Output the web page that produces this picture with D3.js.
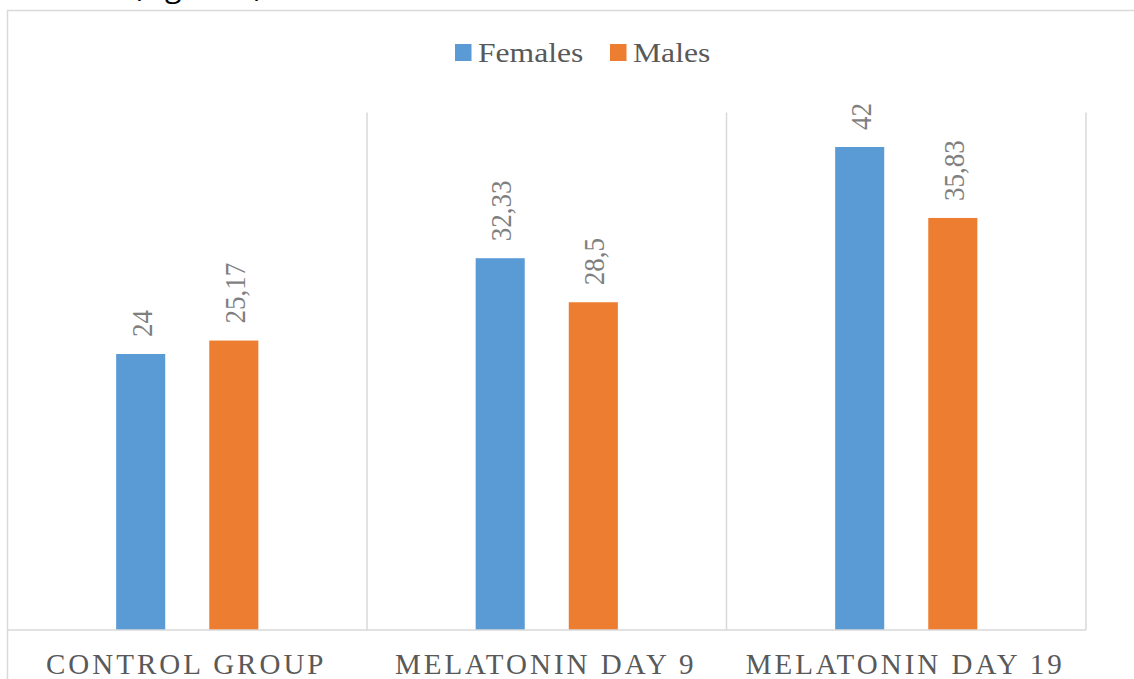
<!DOCTYPE html>
<html>
<head>
<meta charset="utf-8">
<script src="https://cdn.jsdelivr.net/npm/d3@7"></script>
<style>
  html, body { margin: 0; padding: 0; background: #fff; }
  svg { display: block; }
</style>
</head>
<body>
<svg id="chart" width="1134" height="679"></svg>
<script>
// Data
const categories = ["CONTROL GROUP", "MELATONIN DAY 9", "MELATONIN DAY 19"];
const seriesNames = ["Females", "Males"];
const females = [24, 32.33, 42];
const males = [25.17, 28.5, 35.83];
const valueLabels = { Females: ["24", "32,33", "42"], Males: ["25,17", "28,5", "35,83"] };
const colors = { Females: "#5B9BD5", Males: "#ED7D31" };

const W = 1134, H = 679;
const svg = d3.select("#chart");
const sx = 1.13; // horizontal stretch of the exported label text

const plot = { left: 7.5, right: 1086, top: 112.5, bottom: 630 };

// Scales
const x0 = d3.scaleBand().domain(categories).range([plot.left, plot.right]).padding(0);
const x1 = d3.scaleBand().domain(seriesNames).range([0, x0.bandwidth()])
  .paddingInner(0.473).paddingOuter(1.167);
const y = d3.scaleLinear().domain([0, 45]).range([plot.bottom, plot.top]);

// Caption text above the frame (cropped)
svg.append("text")
  .attr("x", 133).attr("y", -3)
  .attr("font-family", "'Open Sans', 'DejaVu Sans', sans-serif")
  .attr("font-size", 28)
  .attr("textLength", 130)
  .attr("lengthAdjust", "spacingAndGlyphs")
  .attr("fill", "#000")
  .text("(Figure 1)");

// Chart frame (runs off the right and bottom edges)
svg.append("path")
  .attr("d", `M7.5,${H + 2} V10.5 H${W + 2}`)
  .attr("fill", "none").attr("stroke", "#d9d9d9").attr("stroke-width", 1.5);

// Category separators
const seps = categories.map(c => x0(c) + x0.bandwidth());
svg.append("g").selectAll("line").data(seps).join("line")
  .attr("x1", d => d).attr("x2", d => d)
  .attr("y1", plot.top).attr("y2", plot.bottom)
  .attr("stroke", "#d9d9d9").attr("stroke-width", 1.5);

// Bars
const rows = categories.map((c, i) => ({ cat: c, Females: females[i], Males: males[i], idx: i }));
const groups = svg.append("g").selectAll("g").data(rows).join("g")
  .attr("transform", d => `translate(${x0(d.cat)},0)`);

groups.selectAll("rect").data(d => seriesNames.map(s => ({ s, v: d[s] }))).join("rect")
  .attr("x", d => x1(d.s))
  .attr("width", x1.bandwidth())
  .attr("y", d => y(d.v))
  .attr("height", d => y(0) - y(d.v))
  .attr("fill", d => colors[d.s]);

// Value labels, rotated
groups.selectAll("text.val").data(d => seriesNames.map(s => ({ s, v: d[s], idx: d.idx }))).join("text")
  .attr("class", "val")
  .attr("transform", d => {
    const cx = x1(d.s) + x1.bandwidth() / 2 + 11;
    const cy = y(d.v) - 17;
    return `translate(${cx},${cy}) scale(${sx},1) rotate(-90)`;
  })
  .attr("font-family", "'Liberation Serif', 'Times New Roman', serif")
  .attr("font-size", 27)
  .attr("fill", "#7f7f7f")
  .attr("text-anchor", "start")
  .text(d => valueLabels[d.s][d.idx]);

// Baseline axis
svg.append("line")
  .attr("x1", plot.left).attr("x2", plot.right)
  .attr("y1", plot.bottom).attr("y2", plot.bottom)
  .attr("stroke", "#d9d9d9").attr("stroke-width", 1.5);

// Category labels
svg.append("g").selectAll("text").data(categories).join("text")
  .attr("x", d => x0(d) + x0.bandwidth() / 2 - 1)
  .attr("y", 673.5)
  .attr("text-anchor", "middle")
  .attr("font-family", "'Liberation Serif', 'Times New Roman', serif")
  .attr("font-size", 29)
  .attr("letter-spacing", 3.0)
  .attr("fill", "#595959")
  .text(d => d);

// Legend
const legendItems = [
  { s: "Females", x: 455 },
  { s: "Males", x: 610 }
];
const lg = svg.append("g").selectAll("g").data(legendItems).join("g")
  .attr("transform", d => `translate(${d.x},0)`);
lg.append("rect")
  .attr("x", 0).attr("y", 44).attr("width", 16.5).attr("height", 17)
  .attr("fill", d => colors[d.s]);
lg.append("text")
  .attr("transform", "translate(23,61.5) scale(" + sx + ",1)")
  .attr("font-family", "'Liberation Serif', 'Times New Roman', serif")
  .attr("font-size", 28)
  .attr("fill", "#595959")
  .text(d => d.s);
</script>
</body>
</html>
